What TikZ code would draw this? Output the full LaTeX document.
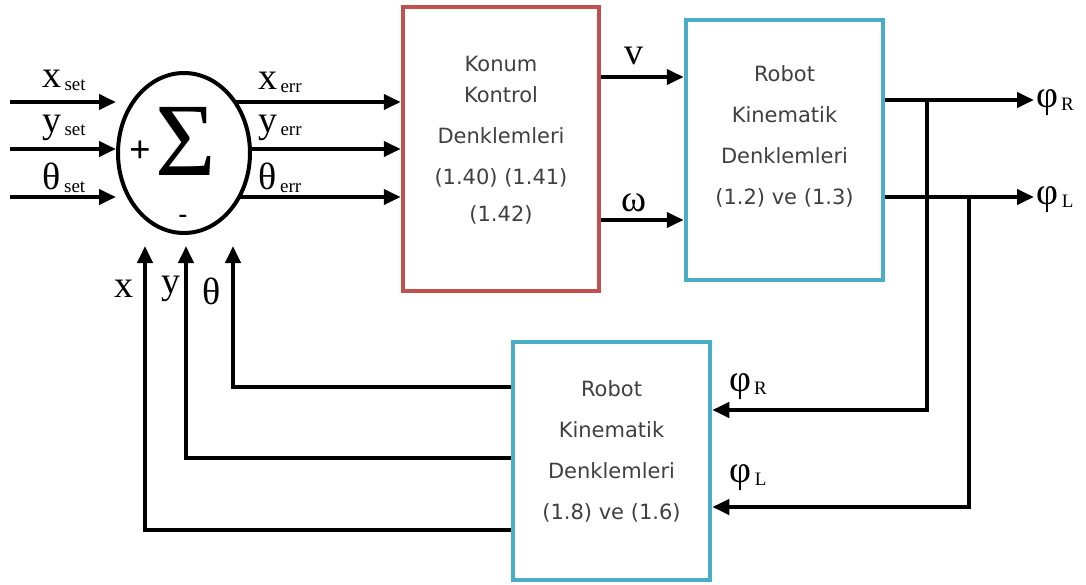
\documentclass[tikz,border=0pt]{standalone}
\usepackage{fontspec}
\setmainfont{Liberation Serif}
\newfontfamily\boxfont{DejaVu Sans}
\usetikzlibrary{arrows.meta,shapes.geometric,backgrounds}
\definecolor{boxred}{HTML}{C0504D}
\definecolor{boxblue}{HTML}{4BACC6}
\definecolor{boxtext}{HTML}{404040}
\newcommand{\lbl}[2]{#1\raisebox{-3pt}{\fontsize{19}{19}\selectfont\,#2}}
\begin{document}
\begin{tikzpicture}[x=1pt,y=-1pt,
  sig/.style={line width=4pt,-{Triangle[length=17pt,width=15pt]}},
  block/.style={draw,line width=4.5pt,fill=white,inner sep=0pt},
  btext/.style={align=center,inner sep=0pt,
    font=\boxfont\fontsize{21}{41}\selectfont,text=boxtext},
  lab/.style={font=\fontsize{38}{38}\selectfont,inner sep=0pt},
  sumnode/.style={ellipse,draw,line width=4pt,fill=white,inner sep=0pt,
    minimum width=132pt,minimum height=160pt}]
\useasboundingbox (0,0) rectangle (1086,585);

% summing junction
\node[sumnode] (sum) at (184,153) {};
\node[font=\fontsize{104}{104}\selectfont,inner sep=0pt] (sigma) at (186,141) {Σ};
\node[font=\fontsize{38}{38}\selectfont\bfseries,inner sep=0pt] (plus) at (140,152) {+};
\node[font=\fontsize{26}{26}\selectfont\bfseries,inner sep=0pt] (minus) at (183,219) {-};

% blocks
\node[block,draw=boxred,minimum width=196pt,minimum height=284pt] (ctrl) at (501,149) {};
\node[block,draw=boxblue,minimum width=197pt,minimum height=260pt] (kin) at (784.5,150) {};
\node[block,draw=boxblue,minimum width=197pt,minimum height=238pt] (bot) at (611.5,461) {};

% block texts
\node[btext] (ctrltxt) at (501,140)
  {Konum\\[-10pt]Kontrol\\Denklemleri\\(1.40) (1.41)\\[-4pt](1.42)};
\node[btext] (kintxt) at (784.5,136)
  {Robot\\Kinematik\\Denklemleri\\(1.2) ve (1.3)};
\node[btext] (bottxt) at (611.5,451)
  {Robot\\Kinematik\\Denklemleri\\(1.8) ve (1.6)};

% signal rows and free ends
\coordinate (rx) at (0,102);
\coordinate (ry) at (0,149);
\coordinate (rt) at (0,197);
\coordinate (inx) at (10,102);
\coordinate (iny) at (10,149);
\coordinate (int) at (10,197);
\coordinate (vY) at (0,77);
\coordinate (wY) at (0,220);
\coordinate (outR) at (1034,100);
\coordinate (outL) at (1034,197);
\coordinate (brR) at (927,100);
\coordinate (brL) at (969,197);
\coordinate (fbR) at (0,410);
\coordinate (fbL) at (0,507);
\coordinate (fbt) at (0,387);
\coordinate (fby) at (0,458);
\coordinate (fbx) at (0,530);
\coordinate (tipt) at (233,246);
\coordinate (tipy) at (186,246);
\coordinate (tipx) at (145,246);

% reference inputs
\draw[sig] (inx) -- (sum.west |- rx);
\draw[sig] (iny) -- (sum.west |- ry);
\draw[sig] (int) -- (sum.west |- rt);

% error signals, started behind the junction
\begin{pgfonlayer}{background}
\draw[sig] (sum.center |- rx) -- (ctrl.west |- rx);
\draw[sig] (sum.center |- ry) -- (ctrl.west |- ry);
\draw[sig] (sum.center |- rt) -- (ctrl.west |- rt);
\end{pgfonlayer}

% controller outputs
\draw[sig] (ctrl.east |- vY) -- (kin.west |- vY);
\draw[sig] (ctrl.east |- wY) -- (kin.west |- wY);

% wheel outputs
\draw[sig] (kin.east |- outR) -- (outR);
\draw[sig] (kin.east |- outL) -- (outL);

% wheel feedback branches
\draw[sig] (brR) -- (brR |- fbR) -- (bot.east |- fbR);
\draw[sig] (brL) -- (brL |- fbL) -- (bot.east |- fbL);

% pose feedback
\draw[sig] (bot.west |- fbt) -- (tipt |- fbt) -- (tipt);
\draw[sig] (bot.west |- fby) -- (tipy |- fby) -- (tipy);
\draw[sig] (bot.west |- fbx) -- (tipx |- fbx) -- (tipx);

% labels
\node[lab] (lxs) at (64,80) {\lbl{x}{set}};
\node[lab] (lys) at (64,128) {\lbl{y}{set}};
\node[lab] (lts) at (64,178) {\lbl{θ}{set}};
\node[lab] (lxe) at (280,82) {\lbl{x}{err}};
\node[lab] (lye) at (280,128) {\lbl{y}{err}};
\node[lab] (lte) at (280,178) {\lbl{θ}{err}};
\node[lab] (lv) at (634,56) {v};
\node[lab] (lw) at (634,203) {ω};
\node[lab] (lpR) at (1055,103) {\lbl{φ}{R}};
\node[lab] (lpL) at (1055,200) {\lbl{φ}{L}};
\node[lab] (lbR) at (748,387) {\lbl{φ}{R}};
\node[lab] (lbL) at (748,478) {\lbl{φ}{L}};
\node[lab] (lx) at (124,289) {x};
\node[lab] (ly) at (171,289) {y};
\node[lab] (lt) at (212,291) {θ};
\end{tikzpicture}
\end{document}
